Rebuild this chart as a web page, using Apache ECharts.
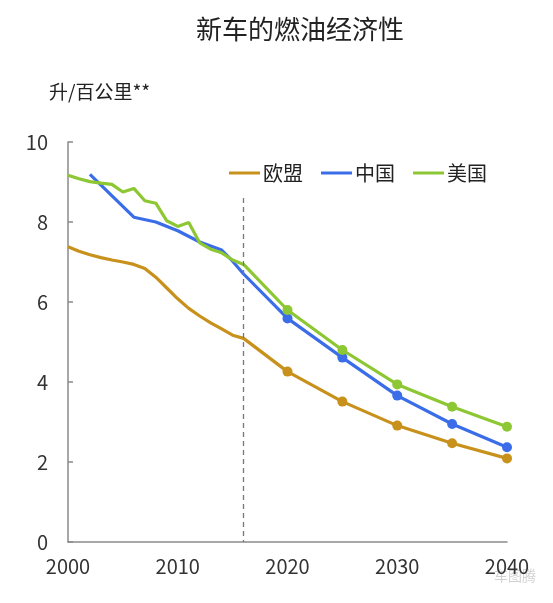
<!DOCTYPE html>
<html>
<head>
<meta charset="utf-8">
<script src="https://cdn.jsdelivr.net/npm/echarts@6/dist/echarts.min.js"></script>
<style>
html,body{margin:0;padding:0;background:#fff;}
#chart{width:553px;height:603px;}
</style>
</head>
<body>
<div id="chart"></div>
<script>
const titleText = '新车的燃油经济性';
const unitText = '升/百公里**';
const seriesNames = ['欧盟', '中国', '美国'];
const seriesColors = ['#C8911C', '#3B6DE8', '#8DC733'];

const euYears = [2000,2001,2002,2003,2004,2005,2006,2007,2008,2009,2010,2011,2012,2013,2014,2015,2016,2020,2025,2030,2035,2040];
const euValues = [7.38,7.27,7.18,7.11,7.05,7.00,6.94,6.84,6.62,6.35,6.08,5.84,5.65,5.48,5.33,5.17,5.09,4.26,3.51,2.91,2.47,2.09];

const cnYears = [2002,2006,2008,2010,2012,2014,2015,2016,2020,2025,2030,2035,2040];
const cnValues = [9.19,8.12,8.00,7.78,7.50,7.30,7.02,6.70,5.59,4.61,3.66,2.95,2.37];

const usYears = [2000,2001,2002,2003,2004,2005,2006,2007,2008,2009,2010,2011,2012,2013,2014,2015,2016,2020,2025,2030,2035,2040];
const usValues = [9.17,9.08,9.01,8.97,8.94,8.75,8.84,8.53,8.47,8.03,7.89,7.99,7.48,7.32,7.23,7.05,6.94,5.80,4.80,3.94,3.38,2.88];

const projectionStart = 2020;
const dividerYear = 2016;
const dividerTop = 8.6;

const xTicks = [2000, 2040, 10];
const yTicks = [0, 10, 2];

const textFont = '"Noto Sans CJK SC", "Noto Sans", sans-serif';

function pairs(xs, ys) { return xs.map((x, i) => [x, ys[i]]); }

const chart = echarts.init(document.getElementById('chart'), null, {renderer: 'canvas'});

function mkSeries(name, color, xs, ys, extra) {
  return Object.assign({
    name: name,
    type: 'line',
    data: pairs(xs, ys),
    color: color,
    lineStyle: {color: color, width: 3.2},
    itemStyle: {color: color},
    symbol: 'circle',
    symbolSize: function (v) { return v[0] >= projectionStart ? 10 : 0; },
    showAllSymbol: true,
    animation: false,
    z: 3
  }, extra || {});
}

chart.setOption({
  backgroundColor: '#fff',
  animation: false,
  title: {
    text: titleText,
    left: 191,
    top: 11,
    textStyle: {fontFamily: textFont, fontSize: 26, fontWeight: 'normal', color: '#222'}
  },
  graphic: [
    {type: 'text', left: 49, top: 82, style: {text: unitText, font: '19px ' + textFont, fill: '#222'}},
    {type: 'text', left: 494, top: 569, style: {text: '车图腾', font: '14px ' + textFont, fill: 'rgba(150,150,150,0.45)'}}
  ],
  legend: {
    left: 224,
    top: 158,
    itemWidth: 31,
    itemHeight: 3,
    itemGap: 18,
    icon: 'rect',
    data: seriesNames,
    textStyle: {fontFamily: textFont, fontSize: 20, color: '#222', padding: [0,0,0,-2]}
  },
  grid: {left: 68, right: 46, top: 142, bottom: 61, containLabel: false},
  xAxis: {
    type: 'value',
    min: xTicks[0], max: xTicks[1], interval: xTicks[2],
    axisLine: {show: true, lineStyle: {color: '#8a8a8a', width: 1.5}},
    axisTick: {show: false},
    splitLine: {show: false},
    axisLabel: {color: '#333', fontSize: 20, fontFamily: textFont, margin: 14, showMaxLabel: true,
      formatter: function (v) { return String(v); }}
  },
  yAxis: {
    type: 'value',
    min: yTicks[0], max: yTicks[1], interval: yTicks[2],
    axisLine: {show: true, lineStyle: {color: '#8a8a8a', width: 1.5}},
    axisTick: {show: true, inside: true, length: 5, lineStyle: {color: '#8a8a8a', width: 1.5}},
    splitLine: {show: false},
    axisLabel: {color: '#333', fontSize: 20, fontFamily: textFont, margin: 20}
  },
  series: [
    mkSeries(seriesNames[0], seriesColors[0], euYears, euValues, {
      markLine: {
        silent: true,
        symbol: ['none', 'none'],
        label: {show: false},
        lineStyle: {color: '#777', type: [5, 4], width: 1.3},
        data: [[{coord: [dividerYear, dividerTop]}, {coord: [dividerYear, 0]}]]
      }
    }),
    mkSeries(seriesNames[1], seriesColors[1], cnYears, cnValues),
    mkSeries(seriesNames[2], seriesColors[2], usYears, usValues)
  ]
});
</script>
</body>
</html>
